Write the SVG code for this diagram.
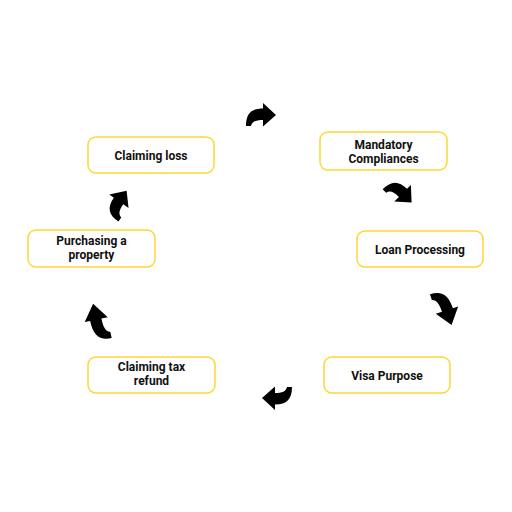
<svg xmlns="http://www.w3.org/2000/svg" xmlns:xlink="http://www.w3.org/1999/xlink" width="512" height="512" viewBox="0 0 512 512">
<style>
.box{fill:#fff;stroke:#FDD835;stroke-width:1.5}
.t{font-family:Roboto,"Liberation Sans",sans-serif;font-weight:bold;font-size:12px;fill:#111;text-anchor:middle}
.a{fill:#000}
</style>
<defs>
<path id="arr" d="M 15 0 L 2 -12 L 2 -6.5 C -10 -6.5 -15 -1 -15 11 L -10 11 C -9 6.5 -5 5 2 5 L 2 11.5 Z"/>
</defs>
<rect width="512" height="512" fill="#fff"/>
<g id="n-claiming-loss"><rect class="box" x="88" y="137" width="126" height="36" rx="8"/><text class="t" x="151" y="159.5">Claiming loss</text></g>
<g id="n-mandatory"><rect class="box" x="320" y="132" width="127" height="38" rx="8"/><text class="t" x="383.5" y="149">Mandatory</text><text class="t" x="383.5" y="163">Compliances</text></g>
<g id="n-loan"><rect class="box" x="357" y="231" width="126" height="36" rx="8"/><text class="t" x="420" y="253.5">Loan Processing</text></g>
<g id="n-visa"><rect class="box" x="324" y="357" width="126" height="36" rx="8"/><text class="t" x="387" y="379.5">Visa Purpose</text></g>
<g id="n-tax"><rect class="box" x="88" y="357" width="127" height="36" rx="8"/><text class="t" x="151.5" y="371">Claiming tax</text><text class="t" x="151.5" y="385">refund</text></g>
<g id="n-property"><rect class="box" x="28" y="230" width="127" height="37" rx="8"/><text class="t" x="91.5" y="245">Purchasing a</text><text class="t" x="91.5" y="259">property</text></g>
<g id="connectors" class="a">
<use xlink:href="#arr" transform="translate(261,115)"/>
<use xlink:href="#arr" transform="translate(401,192) rotate(45)"/>
<use xlink:href="#arr" transform="translate(446,308) rotate(72) scale(1.2,1)"/>
<use xlink:href="#arr" transform="translate(277,398) rotate(180)"/>
<use xlink:href="#arr" transform="translate(97,322) rotate(-102) scale(1.25,1)"/>
<use xlink:href="#arr" transform="translate(118,203) rotate(-55)"/>
</g>
</svg>
